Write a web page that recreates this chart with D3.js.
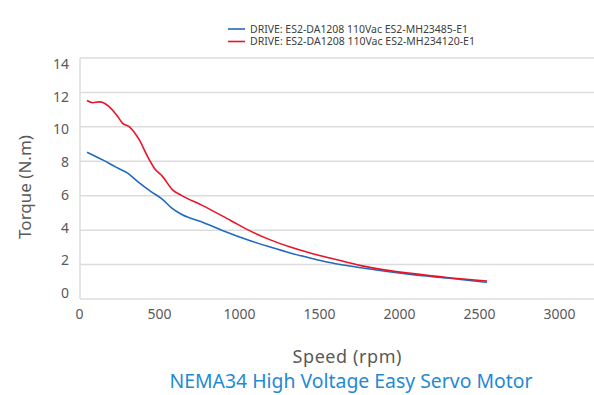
<!DOCTYPE html>
<html>
<head>
<meta charset="utf-8">
<script src="https://cdn.jsdelivr.net/npm/d3@7"></script>
<style>
  body { margin: 0; background: #fff; }
  text { font-family: "Noto Sans", "Open Sans", sans-serif; }
</style>
</head>
<body>
<div id="chart"></div>
<script>
// series names
const seriesNames = [
  "DRIVE: ES2-DA1208 110Vac ES2-MH23485-E1",
  "DRIVE: ES2-DA1208 110Vac ES2-MH234120-E1"
];
const seriesColors = ["#1f6bbf", "#e8142a"];

// speed (rpm) / torque (N.m)
const blueSpeed  = [50, 148, 231, 304, 367, 450, 520, 580, 640, 783, 900, 1075, 1200, 1325, 1450, 1575, 1763, 2075, 2300, 2550];
const blueTorque = [8.53, 8.08, 7.66, 7.31, 6.82, 6.24, 5.8, 5.28, 4.92, 4.42, 3.97, 3.37, 3.0, 2.66, 2.37, 2.11, 1.82, 1.43, 1.22, 0.97];

const redSpeed  = [50, 85, 127, 188, 242, 273, 315, 377, 429, 471, 523, 585, 640, 770, 950, 1075, 1200, 1325, 1450, 1575, 1763, 1908, 2075, 2300, 2550];
const redTorque = [11.53, 11.4, 11.45, 11.18, 10.6, 10.2, 10.0, 9.24, 8.27, 7.6, 7.11, 6.34, 6.02, 5.44, 4.55, 3.93, 3.42, 3.0, 2.66, 2.37, 1.94, 1.69, 1.49, 1.25, 1.05];

const xTicks = [0, 500, 1000, 1500, 2000, 2500, 3000];
const yTicks = [0, 2, 4, 6, 8, 10, 12, 14];

const width = 594, height = 395;

const svg = d3.select("#chart").append("svg")
  .attr("width", width)
  .attr("height", height);

const x = d3.scaleLinear().domain([0, 3000]).range([79, 559]);
const y = d3.scaleLinear().domain([0, 14]).range([299, 58]);
// tick labels sit a bit tighter than the grid in the picture
const yLab = d3.scaleLinear().domain([0, 14]).range([293, 64]);

// gridlines
svg.append("g")
  .selectAll("line")
  .data(yTicks)
  .join("line")
  .attr("x1", 80)
  .attr("x2", width)
  .attr("y1", d => y(d))
  .attr("y2", d => y(d))
  .attr("stroke", "#dcdcdc")
  .attr("stroke-width", 1.5);

// left axis line
svg.append("line")
  .attr("x1", 80).attr("x2", 80)
  .attr("y1", y(14)).attr("y2", y(0))
  .attr("stroke", "#dcdcdc")
  .attr("stroke-width", 1.5);

// y tick labels
const yAxis = svg.append("g")
  .attr("transform", "translate(69,0)")
  .call(d3.axisLeft(yLab).tickValues(yTicks).tickSize(0).tickPadding(0));
yAxis.select(".domain").remove();
yAxis.selectAll("text")
  .attr("fill", "#595959")
  .style("font-size", "14px");

// x tick labels
const xAxis = svg.append("g")
  .attr("transform", "translate(0,309)")
  .call(d3.axisBottom(x).tickValues(xTicks).tickFormat(d3.format("d")).tickSize(0).tickPadding(0));
xAxis.select(".domain").remove();
xAxis.selectAll("text")
  .attr("fill", "#595959")
  .style("font-size", "14px");

// lines
const line = d3.line()
  .x(d => x(d[0]))
  .y(d => y(d[1]))
  .curve(d3.curveMonotoneX);

const blueData = blueSpeed.map((s, i) => [s, blueTorque[i]]);
const redData = redSpeed.map((s, i) => [s, redTorque[i]]);

svg.append("path")
  .datum(blueData)
  .attr("d", line)
  .attr("fill", "none")
  .attr("stroke", seriesColors[0])
  .attr("stroke-width", 1.6);

svg.append("path")
  .datum(redData)
  .attr("d", line)
  .attr("fill", "none")
  .attr("stroke", seriesColors[1])
  .attr("stroke-width", 1.6);

// legend
const legend = svg.append("g");
seriesNames.forEach((name, i) => {
  const ly = 29 + i * 12.5;
  legend.append("line")
    .attr("x1", 228).attr("x2", 245)
    .attr("y1", ly).attr("y2", ly)
    .attr("stroke", seriesColors[i])
    .attr("stroke-width", 1.6);
  legend.append("text")
    .attr("x", 250)
    .attr("y", ly + 3.5)
    .attr("fill", "#404040")
    .style("font-size", "10px")
    .attr("textLength", i == 0 ? 218 : 225)
    .attr("lengthAdjust", "spacingAndGlyphs")
    .text(name);
});

// axis titles
svg.append("text")
  .attr("transform", "translate(31,187) rotate(-90)")
  .attr("text-anchor", "middle")
  .attr("fill", "#595959")
  .style("font-size", "17px")
  .text("Torque (N.m)");

svg.append("text")
  .attr("x", 347)
  .attr("y", 363)
  .attr("text-anchor", "middle")
  .attr("fill", "#595959")
  .style("font-size", "18px")
  .attr("textLength", 109)
  .text("Speed (rpm)");

svg.append("text")
  .attr("x", 351)
  .attr("y", 388)
  .attr("text-anchor", "middle")
  .attr("fill", "#1f8ad4")
  .style("font-size", "19px")
  .attr("textLength", 363)
  .attr("lengthAdjust", "spacingAndGlyphs")
  .text("NEMA34 High Voltage Easy Servo Motor");
</script>
</body>
</html>
